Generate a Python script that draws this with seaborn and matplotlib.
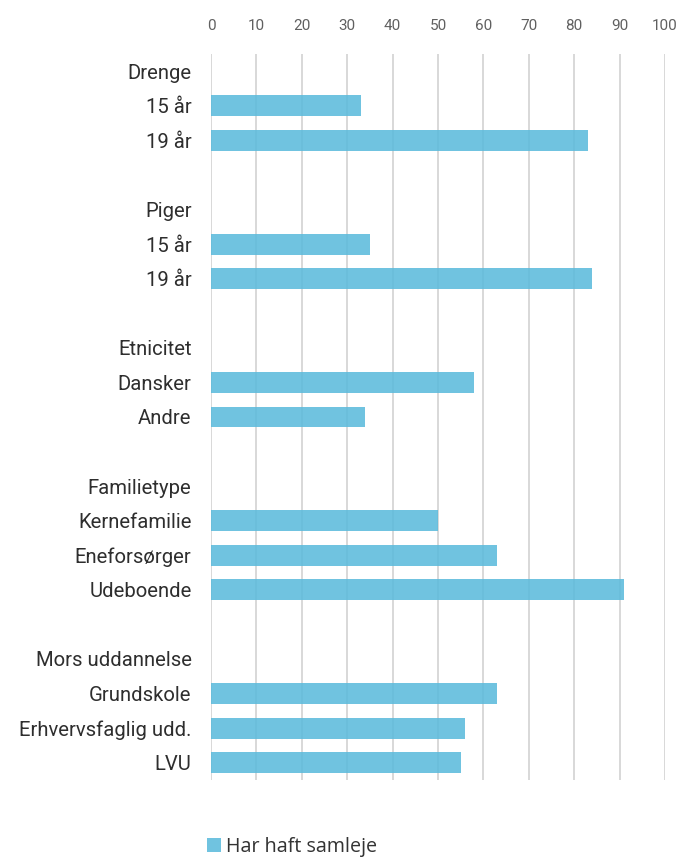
import numpy as np
import pandas as pd
import seaborn as sns
import matplotlib.pyplot as plt

#%% data
groups = ['Drenge', 'Piger', 'Etnicitet', 'Familietype', 'Mors uddannelse']
items = [['15 år', '19 år'],
         ['15 år', '19 år'],
         ['Dansker', 'Andre'],
         ['Kernefamilie', 'Eneforsørger', 'Udeboende'],
         ['Grundskole', 'Erhvervsfaglig udd.', 'LVU']]
values = [[33, 83],
          [35, 84],
          [58, 34],
          [50, 63, 91],
          [63, 56, 55]]
series_name = 'Har haft samleje'
x_ticks = list(range(0, 101, 10))

#%% build rows (header row, item rows, blank row between groups)
keys, labels, vals = [], [], []
for g, (grp, its, vs) in enumerate(zip(groups, items, values)):
    if g > 0:
        keys.append('blank%d' % g); labels.append(''); vals.append(np.nan)
    keys.append(grp); labels.append(grp); vals.append(np.nan)
    for it, v in zip(its, vs):
        keys.append(grp + '|' + it); labels.append(it); vals.append(v)

df = pd.DataFrame({'key': keys, 'value': vals, 'series': series_name})

#%% plot
sns.set_style('white')
plt.rcParams['font.family'] = ['Roboto', 'DejaVu Sans']

fig = plt.figure(figsize=(6.8, 8.58), dpi=100)
ax = fig.add_axes([211 / 680, 1 - 780 / 858, (665 - 211) / 680, (780 - 54) / 858])

ax.set_axisbelow(True)
ax.grid(axis='x', color='#d6d6d6', linewidth=1.3)
sns.barplot(data=df, x='value', y='key', hue='series', order=keys,
            palette=['#5bbadc'], saturation=1, alpha=0.87, width=0.6,
            linewidth=0, ax=ax)

ax.set_xlim(0, 100)
ax.set_ylim(len(keys) - 0.5, -0.5)
ax.xaxis.tick_top()
ax.set_xticks(x_ticks)
ax.set_xticklabels([str(t) for t in x_ticks], fontsize=11, color='#606060')
ax.set_yticks(range(len(keys)))
ax.set_yticklabels(labels, fontsize=14.6, color='#2e2e2e')
ax.tick_params(axis='both', length=0)
ax.tick_params(axis='y', pad=14)
ax.tick_params(axis='x', pad=15)
ax.set_xlabel('')
ax.set_ylabel('')
sns.despine(ax=ax, left=True, bottom=True, top=True, right=True)

sns.move_legend(ax, 'center left', bbox_to_anchor=(207 / 680, 1 - 847 / 858),
                bbox_transform=fig.transFigure, frameon=False, title=None,
                handlelength=0.7, handleheight=0.7, handletextpad=0.25,
                borderpad=0, borderaxespad=0,
                prop={'family': ['Open Sans', 'DejaVu Sans'], 'size': 14.2})
for t in ax.get_legend().get_texts():
    t.set_color('#333333')

fig.savefig('out.png', dpi=100)
